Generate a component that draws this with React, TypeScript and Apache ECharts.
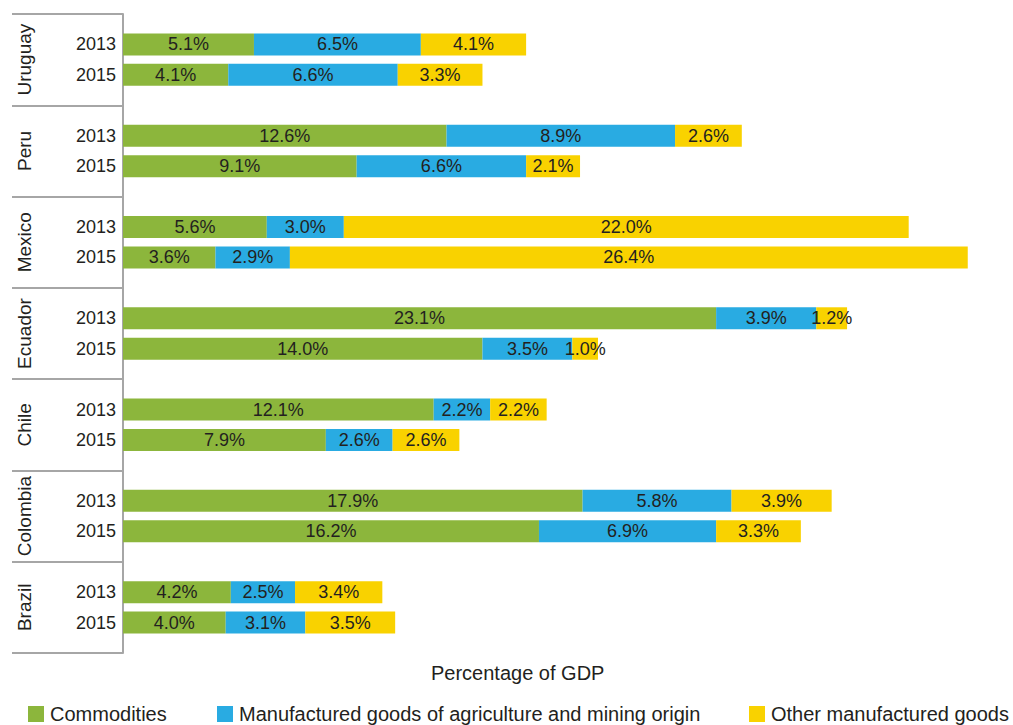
import React, { useEffect, useRef } from "react";
import * as echarts from "echarts";

const countries = ["Uruguay", "Peru", "Mexico", "Ecuador", "Chile", "Colombia", "Brazil"];
const years = ["2013", "2015"];
// values per country: [2013, 2015]
const commodities = [[5.1, 4.1], [12.6, 9.1], [5.6, 3.6], [23.1, 14.0], [12.1, 7.9], [17.9, 16.2], [4.2, 4.0]];
const manufacturedAgriMining = [[6.5, 6.6], [8.9, 6.6], [3.0, 2.9], [3.9, 3.5], [2.2, 2.6], [5.8, 6.9], [2.5, 3.1]];
const otherManufactured = [[4.1, 3.3], [2.6, 2.1], [22.0, 26.4], [1.2, 1.0], [2.2, 2.6], [3.9, 3.3], [3.4, 3.5]];
const seriesNames = ["Commodities", "Manufactured goods of agriculture and mining origin", "Other manufactured goods"];
const colors = ["#8cb63c", "#29abe2", "#f9d200"];
const legendLefts = [28, 217, 749];

const FONT = "'Liberation Sans', Arial, sans-serif";

function buildCategories(): string[] {
  const cats: string[] = [];
  countries.forEach(() => {
    cats.push("");
    years.forEach((y) => cats.push(y));
  });
  cats.push("");
  return cats;
}

function buildData(vals: number[][]): (number | null)[] {
  const out: (number | null)[] = [];
  vals.forEach((pair) => {
    out.push(null);
    pair.forEach((v) => out.push(v));
  });
  out.push(null);
  return out;
}

export default function App() {
  const ref = useRef<HTMLDivElement>(null);
  useEffect(() => {
    document.body.style.margin = "0";
    const chart = echarts.init(ref.current!, null, { renderer: "svg" });
    const cats = buildCategories();
    const all = [commodities, manufacturedAgriMining, otherManufactured];
    chart.setOption({
      animation: false,
      textStyle: { fontFamily: FONT },
      title: {
        text: "Percentage of GDP",
        left: 426,
        top: 658,
        textStyle: { fontSize: 20, fontWeight: "normal", color: "#231f20", fontFamily: FONT },
      },
      legend: seriesNames.map((name, i) => ({
        left: legendLefts[i],
        top: 704,
        padding: 0,
        itemWidth: 16,
        itemHeight: 16,
        itemGap: 5,
        icon: "rect",
        textStyle: { fontSize: 20, color: "#231f20", fontFamily: FONT, padding: [0, 0, 0, 1] },
        data: [name],
      })),
      grid: { left: 123, top: 14, bottom: 72, right: 17, containLabel: false },
      xAxis: { type: "value", min: 0, max: 34, show: false },
      yAxis: [
        {
          type: "category",
          data: cats,
          inverse: true,
          boundaryGap: false,
          position: "left",
          axisLine: { show: true, lineStyle: { color: "#a6a6a6", width: 2 } },
          axisTick: {
            show: true,
            interval: (idx: number) => idx % 3 === 0,
            length: 111,
            lineStyle: { color: "#a6a6a6", width: 2 },
          },
          axisLabel: { interval: 0, margin: 7, fontSize: 18, color: "#231f20", fontFamily: FONT },
          splitLine: { show: false },
        },
        {
          type: "category",
          data: countries,
          inverse: true,
          position: "left",
          axisLine: { show: false },
          axisTick: { show: false },
          axisLabel: { interval: 0, rotate: 90, margin: 89, fontSize: 19, color: "#231f20", fontFamily: FONT },
          splitLine: { show: false },
        },
      ],
      series: all.map((vals, i) => ({
        name: seriesNames[i],
        type: "bar",
        stack: "total",
        yAxisIndex: 0,
        barWidth: 22,
        itemStyle: { color: colors[i] },
        label: {
          show: true,
          position: "inside",
          fontSize: 18,
          color: "#231f20",
          fontFamily: FONT,
          formatter: (p: any) => (p.value == null ? "" : `${Number(p.value).toFixed(1)}%`),
        },
        data: buildData(vals),
      })),
    });
    return () => chart.dispose();
  }, []);
  return <div ref={ref} style={{ width: 1013, height: 725 }} />;
}
